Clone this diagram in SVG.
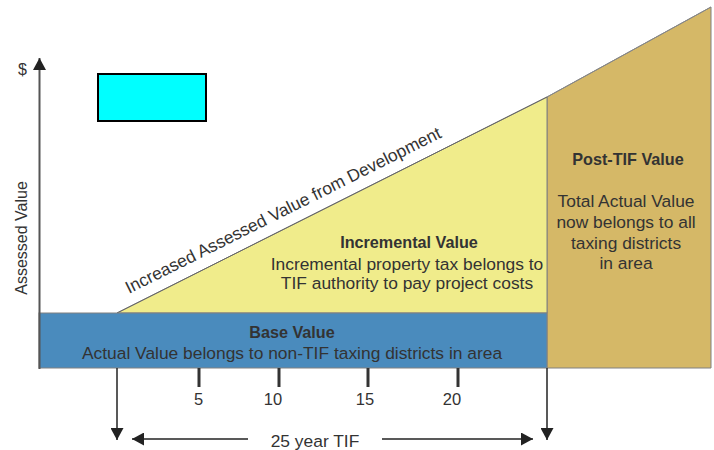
<svg xmlns="http://www.w3.org/2000/svg" width="714" height="450" viewBox="0 0 714 450">
  <defs>
    <style>
      .txt{font-family:"Liberation Sans",Arial,sans-serif;font-size:17.4px;fill:#333}
      .bold{font-weight:bold;font-size:16.2px}
      .mid{text-anchor:middle}
      .edge{fill:none;stroke:#222;stroke-width:1.5}
      .tick{stroke:#333;stroke-width:3}
      .outline{stroke:#808080;stroke-width:1}
    </style>
    <marker id="arrow" viewBox="0 0 12 13" refX="12" refY="6.5" markerWidth="12" markerHeight="13" markerUnits="userSpaceOnUse" orient="auto">
      <path d="M0,0 L12,6.5 L0,13 Z" fill="#222"/>
    </marker>
  </defs>

  <rect width="714" height="450" fill="#ffffff"/>

  <!-- after the TIF ends: whole value goes back to all districts -->
  <g id="post-tif">
    <polygon class="outline" points="547,97 711,7 711,368 547,368" fill="#d5b867"/>
    <text class="txt bold mid" x="628" y="165">Post-TIF Value</text>
    <text class="txt mid" x="626" y="207">Total Actual Value</text>
    <text class="txt mid" x="626" y="228">now belongs to all</text>
    <text class="txt mid" x="626" y="248.5">taxing districts</text>
    <text class="txt mid" x="626" y="269">in area</text>
  </g>

  <!-- growth in value during the TIF term -->
  <g id="incremental">
    <polygon class="outline" points="117,313 547,97 547,313" fill="#f0ec8b"/>
    <line x1="117" y1="313" x2="547" y2="97" stroke="#666" stroke-width="1"/>
    <line x1="547" y1="97" x2="711" y2="7" stroke="#888" stroke-width="1"/>
    <text class="txt" transform="translate(129,294) rotate(-26.6)" style="font-size:17.4px">Increased Assessed Value from Development</text>
    <text class="txt bold mid" x="409" y="248">Incremental Value</text>
    <text class="txt mid" x="407" y="270">Incremental property tax belongs to</text>
    <text class="txt mid" x="407" y="289">TIF authority to pay project costs</text>
  </g>

  <!-- frozen base value -->
  <g id="base">
    <rect class="outline" x="39" y="313" width="508" height="55" fill="#4a8bbd"/>
    <text class="txt bold mid" x="292" y="338">Base Value</text>
    <text class="txt mid" x="292" y="359">Actual Value belongs to non-TIF taxing districts in area</text>
  </g>

  <g id="legend-box">
    <rect x="98" y="74" width="108" height="47" fill="#00ffff" stroke="#000" stroke-width="2"/>
  </g>

  <!-- vertical axis -->
  <g id="y-axis">
    <line x1="39.5" y1="369" x2="39.5" y2="58" stroke="#555" stroke-width="2" marker-end="url(#arrow)"/>
    <text class="txt" x="18" y="75" style="font-size:16px">$</text>
    <text class="txt mid" transform="translate(27,238) rotate(-90)" style="font-size:16px">Assessed Value</text>
  </g>

  <!-- year scale -->
  <g id="x-axis">
    <line class="tick" x1="199" y1="368" x2="199" y2="387"/>
    <line class="tick" x1="279" y1="368" x2="279" y2="387"/>
    <line class="tick" x1="368" y1="368" x2="368" y2="387"/>
    <line class="tick" x1="458" y1="368" x2="458" y2="387"/>
    <text class="txt mid" x="198.5" y="405" style="font-size:16.5px">5</text>
    <text class="txt mid" x="273" y="405" style="font-size:16.5px">10</text>
    <text class="txt mid" x="365" y="405" style="font-size:16.5px">15</text>
    <text class="txt mid" x="452" y="405" style="font-size:16.5px">20</text>
    <text class="txt mid" x="315" y="447">25 year TIF</text>
  </g>

  <g id="connectors">
    <line class="edge" x1="117" y1="368" x2="117" y2="440" marker-end="url(#arrow)"/>
    <line class="edge" x1="547" y1="368" x2="547" y2="440" marker-end="url(#arrow)"/>
    <line class="edge" x1="248" y1="439" x2="132" y2="439" marker-end="url(#arrow)"/>
    <line class="edge" x1="382" y1="439" x2="533" y2="439" marker-end="url(#arrow)"/>
  </g>
</svg>
